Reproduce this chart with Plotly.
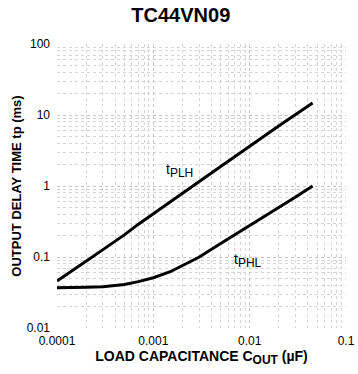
import plotly.graph_objects as go

plh_x = [1e-4, 1.5e-4, 2e-4, 3e-4, 5e-4, 7e-4, 1e-3, 1.5e-3, 2e-3, 3e-3, 5e-3, 7e-3, 1e-2, 1.5e-2, 2e-2, 3e-2, 4.5e-2]
plh_y = [0.046, 0.066, 0.087, 0.127, 0.205, 0.29, 0.41, 0.6, 0.79, 1.16, 1.88, 2.6, 3.6, 5.3, 7.0, 10.2, 14.8]

phl_x = [1e-4, 1.5e-4, 2e-4, 3e-4, 5e-4, 7e-4, 1e-3, 1.5e-3, 2e-3, 3e-3, 5e-3, 7e-3, 1e-2, 1.5e-2, 2e-2, 3e-2, 4.5e-2]
phl_y = [0.037, 0.037, 0.0375, 0.038, 0.041, 0.045, 0.051, 0.062, 0.075, 0.1, 0.155, 0.205, 0.28, 0.39, 0.5, 0.7, 1.0]

x_ticks = [1e-4, 1e-3, 1e-2, 1e-1]
x_labels = ["0.0001", "0.001", "0.01", "0.1"]
y_ticks = [0.01, 0.1, 1, 10, 100]
y_labels = ["0.01", "0.1", "1", "10", "100"]

FONT = "Liberation Sans, Arial, sans-serif"

fig = go.Figure()
for xs, ys in [(plh_x, plh_y), (phl_x, phl_y)]:
    fig.add_trace(go.Scatter(x=xs, y=ys, mode="lines",
                             line=dict(color="black", width=3),
                             showlegend=False, hoverinfo="skip"))

def lbl(sub):
    return "t<sub><span style='font-size:12px'>" + sub + "</span></sub>"

fig.add_annotation(x=-2.733, y=0.225, xref="x", yref="y", showarrow=False,
                   text=lbl("PLH"), font=dict(family=FONT, size=14, color="#000000"))
fig.add_annotation(x=-2.017, y=-1.056, xref="x", yref="y", showarrow=False,
                   text=lbl("PHL"), font=dict(family=FONT, size=14, color="#000000"))

grid = dict(showgrid=True, gridcolor="#c4c4c4", gridwidth=1, griddash="dot")
minor = dict(dtick="D1", showgrid=True, gridcolor="#d4d4d4", griddash="dot", gridwidth=1, ticks="")
fig.update_xaxes(type="log", range=[-4, -1], tickvals=x_ticks, ticktext=x_labels,
                 showline=False, zeroline=False, ticks="", automargin=False,
                 ticklabelstandoff=4, minor=minor,
                 tickfont=dict(family=FONT, size=12, color="black"),
                 title=dict(text="<b>LOAD CAPACITANCE C<sub><span style='font-size:12px'>OUT</span></sub> (µF)</b>",
                            standoff=3, font=dict(family=FONT, size=14, color="black")),
                 **grid)
fig.update_yaxes(type="log", range=[-2, 2], tickvals=y_ticks, ticktext=y_labels,
                 showline=False, zeroline=False, ticks="", automargin=False,
                 ticklabelstandoff=6, minor=minor,
                 tickfont=dict(family=FONT, size=12, color="black"),
                 title=dict(text="<b>OUTPUT DELAY TIME tp (ms)</b>", standoff=2,
                            font=dict(family=FONT, size=13, color="black")),
                 **grid)

fig.update_layout(
    width=358, height=374,
    margin=dict(l=57, r=12, t=44, b=46),
    paper_bgcolor="white", plot_bgcolor="white",
    title=dict(text="<b>TC44VN09</b>", x=0.505, xanchor="center", y=0.96, yanchor="middle",
               font=dict(family=FONT, size=20, color="black")),
)

fig.write_html("out.html")
